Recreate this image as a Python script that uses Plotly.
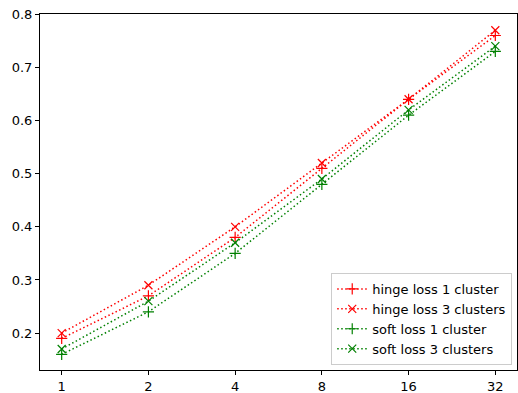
import plotly.graph_objects as go
import math

x_vals = [1, 2, 4, 8, 16, 32]
tick_labels = ["1", "2", "4", "8", "16", "32"]
y_ticks = [0.2, 0.3, 0.4, 0.5, 0.6, 0.7, 0.8]
y_tick_labels = ["0.2", "0.3", "0.4", "0.5", "0.6", "0.7", "0.8"]
hinge_1 = [0.19, 0.27, 0.38, 0.51, 0.64, 0.76]
hinge_3 = [0.20, 0.29, 0.40, 0.52, 0.64, 0.77]
soft_1 = [0.16, 0.24, 0.35, 0.48, 0.61, 0.73]
soft_3 = [0.17, 0.26, 0.37, 0.49, 0.62, 0.74]

series = [
    ("hinge loss 1 cluster", hinge_1, "red", "cross-thin"),
    ("hinge loss 3 clusters", hinge_3, "red", "x-thin"),
    ("soft loss 1 cluster", soft_1, "green", "cross-thin"),
    ("soft loss 3 clusters", soft_3, "green", "x-thin"),
]

fig = go.Figure()
for name, ys, color, sym in series:
    fig.add_trace(go.Scatter(
        x=x_vals, y=ys, name=name, mode="lines+markers",
        line=dict(color=color, width=1.5, dash="1.5px,2.5px"),
        marker=dict(symbol=sym, size=8, color=color, line=dict(color=color, width=1.2)),
    ))

lo = math.log10(2 ** -0.25)
hi = math.log10(2 ** 5.25)
fig.update_layout(
    width=518, height=393,
    margin=dict(l=40, r=1, t=14, b=23, autoexpand=False),
    plot_bgcolor="white", paper_bgcolor="white",
    font=dict(family="DejaVu Sans", size=13, color="black"),
    showlegend=True,
    legend=dict(x=0.99, y=0.014, xanchor="right", yanchor="bottom",
                bordercolor="#cccccc", borderwidth=1, bgcolor="rgba(255,255,255,0.8)",
                font=dict(size=13), tracegroupgap=0, itemwidth=30),
)
fig.update_xaxes(type="log", range=[lo, hi], tickvals=x_vals, ticktext=tick_labels,
                 automargin=False,
                 showgrid=False, zeroline=False, showline=True, linecolor="black", linewidth=1,
                 mirror=True, ticks="outside", ticklen=4, tickcolor="black")
fig.update_yaxes(range=[0.1305, 0.8005], tickvals=y_ticks, ticktext=y_tick_labels,
                 automargin=False,
                 showgrid=False, zeroline=False, showline=True, linecolor="black", linewidth=1,
                 mirror=True, ticks="outside", ticklen=4, tickcolor="black")

fig.write_html("out.html", config={"displayModeBar": False},
               post_script="document.body.style.margin='0';document.body.style.overflow='hidden';")
